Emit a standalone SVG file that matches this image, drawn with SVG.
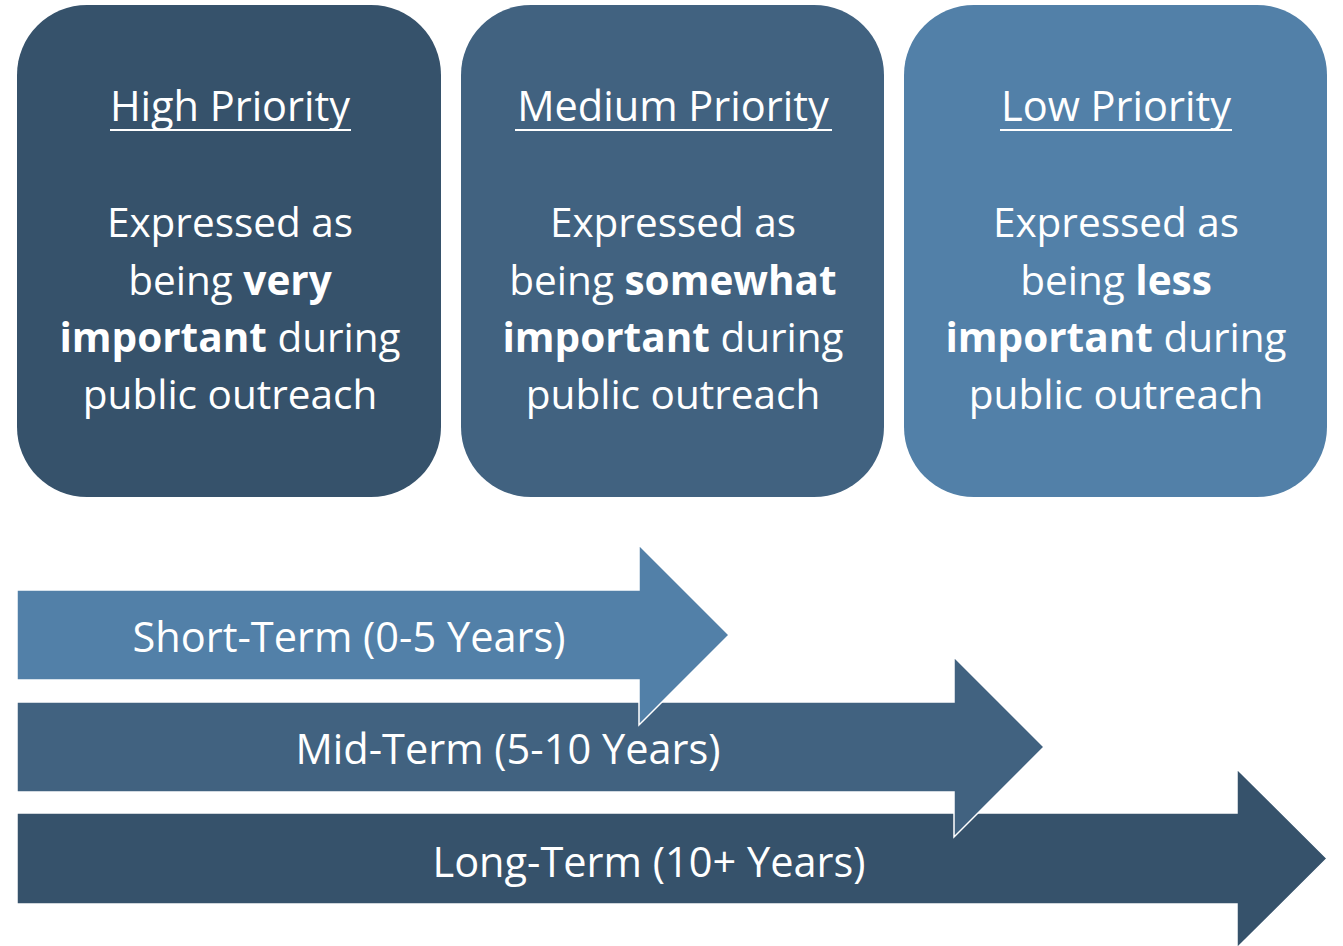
<svg xmlns="http://www.w3.org/2000/svg" width="1343" height="946" viewBox="0 0 1343 946">
<style>
.t{font-family:"Open Sans","Liberation Sans",sans-serif;fill:#ffffff;text-anchor:middle}
.body{font-size:40.5px}
.ttl{font-size:41.5px}
.lbl{font-size:41.5px}
.b{font-weight:bold}
.ul{stroke:#ffffff;stroke-width:2}
.arr{stroke:#ffffff;stroke-width:1.5;stroke-linejoin:miter}
</style>
<rect width="1343" height="946" fill="#ffffff"/>
<g id="high-priority">
<rect x="17" y="5" width="424" height="492" rx="70" ry="70" fill="#36526b"/>
<text class="t ttl" x="230" y="121">High Priority</text>
<line class="ul" x1="110" y1="130" x2="351" y2="130"/>
<text class="t body" x="230" y="237">Expressed as</text>
<text class="t body" x="230" y="295">being <tspan class="b">very</tspan></text>
<text class="t body" x="230" y="352"><tspan class="b">important</tspan> during</text>
<text class="t body" x="230" y="409">public outreach</text>
</g>
<g id="medium-priority">
<rect x="461" y="5" width="423" height="492" rx="70" ry="70" fill="#416280"/>
<text class="t ttl" x="673" y="121">Medium Priority</text>
<line class="ul" x1="515" y1="130" x2="832" y2="130"/>
<text class="t body" x="673" y="237">Expressed as</text>
<text class="t body" x="673" y="295">being <tspan class="b">somewhat</tspan></text>
<text class="t body" x="673" y="352"><tspan class="b">important</tspan> during</text>
<text class="t body" x="673" y="409">public outreach</text>
</g>
<g id="low-priority">
<rect x="904" y="5" width="423" height="492" rx="70" ry="70" fill="#5280a8"/>
<text class="t ttl" x="1116" y="121">Low Priority</text>
<line class="ul" x1="1000" y1="130" x2="1232" y2="130"/>
<text class="t body" x="1116" y="237">Expressed as</text>
<text class="t body" x="1116" y="295">being <tspan class="b">less</tspan></text>
<text class="t body" x="1116" y="352"><tspan class="b">important</tspan> during</text>
<text class="t body" x="1116" y="409">public outreach</text>
</g>
<g id="connectors">
<g id="long-term">
<polygon class="arr" fill="#36526b" points="17,813 1237,813 1237,769 1327,858.5 1237,948 1237,904 17,904"/>
<text class="t lbl" x="649" y="877">Long-Term (10+ Years)</text>
</g>
<g id="mid-term">
<polygon class="arr" fill="#416280" points="17,702 954,702 954,657 1044,747 954,837 954,792 17,792"/>
<text class="t lbl" x="508" y="764">Mid-Term (5-10 Years)</text>
</g>
<g id="short-term">
<polygon class="arr" fill="#5280a8" points="17,590 639,590 639,545 729,635 639,725 639,680 17,680"/>
<text class="t lbl" x="349" y="652">Short-Term (0-5 Years)</text>
</g>
</g>
</svg>
